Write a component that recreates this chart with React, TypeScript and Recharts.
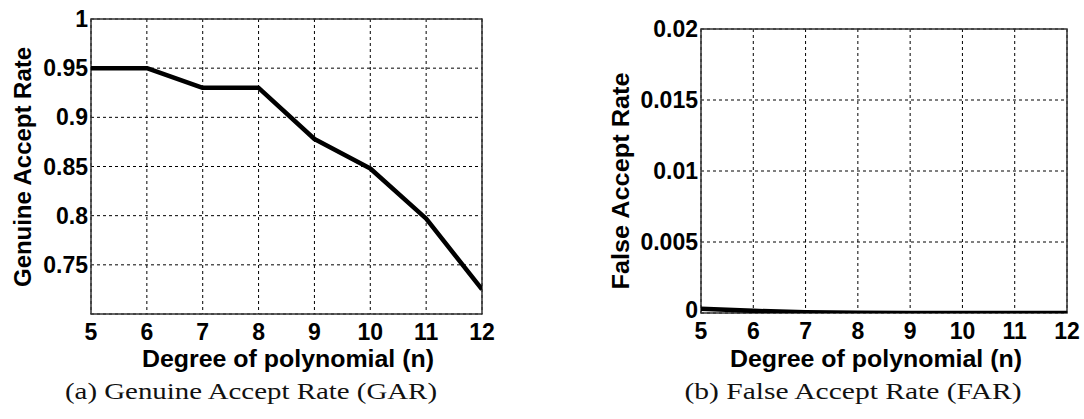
import React from 'react';
import { LineChart, Line, XAxis, YAxis, CartesianGrid, ReferenceArea } from 'recharts';

const degrees = [5, 6, 7, 8, 9, 10, 11, 12];
const garValues = [0.95, 0.95, 0.93, 0.93, 0.878, 0.848, 0.797, 0.725];
const farValues = [0.0003, 0.00015, 0.00005, 0.00001, 0, 0, 0, 0];
const xTicks = [5, 6, 7, 8, 9, 10, 11, 12];
const garTicks = [0.75, 0.8, 0.85, 0.9, 0.95, 1];
const farTicks = [0, 0.005, 0.01, 0.015, 0.02];

const garData = degrees.map((n, i) => ({ n, v: garValues[i] }));
const farData = degrees.map((n, i) => ({ n, v: farValues[i] }));

const SANS = '"Liberation Sans", Arial, sans-serif';
const SERIF = '"Liberation Serif", "Times New Roman", serif';
const tickStyle = { fontSize: 23, fontWeight: 700, fill: '#000', fontFamily: SANS };

function YTick(props: any) {
  const { x, y, payload } = props;
  const isZero = payload.value === 0;
  return (
    <text x={x} y={isZero ? y - 3 : y} textAnchor="end" dominantBaseline="central" {...tickStyle}>
      {String(payload.value)}
    </text>
  );
}

function Panel(props: {
  data: { n: number; v: number }[];
  yDomain: [number, number];
  yTicks: number[];
  width: number;
  yAxisWidth: number;
  margin: { top: number; right: number; left: number; bottom: number };
}) {
  const { data, yDomain, yTicks, width, yAxisWidth, margin } = props;
  return (
    <LineChart width={width} height={380} data={data} margin={margin}>
      <CartesianGrid stroke="#000" strokeDasharray="3 3" strokeWidth={1} />
      <XAxis
        dataKey="n"
        type="number"
        domain={[5, 12]}
        ticks={xTicks}
        interval={0}
        allowDataOverflow
        height={60}
        tickLine={false}
        tickSize={0}
        tickMargin={10}
        axisLine={false}
        tick={tickStyle}
      />
      <YAxis
        type="number"
        domain={yDomain}
        ticks={yTicks}
        interval={0}
        allowDataOverflow
        width={yAxisWidth}
        tickLine={false}
        tickSize={0}
        tickMargin={3}
        axisLine={false}
        tick={<YTick />}
      />
      <ReferenceArea
        x1={5}
        x2={12}
        y1={yDomain[0]}
        y2={yDomain[1]}
        fill="none"
        stroke="#333"
        strokeWidth={1.5}
        fillOpacity={0}
        ifOverflow="visible"
      />
      <Line
        type="linear"
        dataKey="v"
        stroke="#000"
        strokeWidth={4.5}
        dot={false}
        isAnimationActive={false}
        strokeLinejoin="round"
      />
    </LineChart>
  );
}

export default function App() {
  return (
    <div style={{ position: 'absolute', left: 0, top: 0, width: 1084, height: 419, background: '#fff', overflow: 'hidden' }}>
      <div style={{ position: 'absolute', left: 0, top: 0 }}>
        <Panel
          data={garData}
          yDomain={[0.7, 1]}
          yTicks={garTicks}
          width={520}
          yAxisWidth={91}
          margin={{ top: 19, right: 38, left: 0, bottom: 6 }}
        />
      </div>
      <div style={{ position: 'absolute', left: 540, top: 0 }}>
        <Panel
          data={farData}
          yDomain={[0, 0.02]}
          yTicks={farTicks}
          width={544}
          yAxisWidth={90}
          margin={{ top: 29, right: 17, left: 71, bottom: 7 }}
        />
      </div>
      <svg width={1084} height={419} style={{ position: 'absolute', left: 0, top: 0, pointerEvents: 'none' }}>
        <g fontFamily={SANS} fontWeight={700} fontSize={24} fill="#000">
          <text x={22} y={167} transform="rotate(-90 22 167)" textAnchor="middle" dominantBaseline="central" textLength={240} lengthAdjust="spacingAndGlyphs">
            Genuine Accept Rate
          </text>
          <text x={620} y={181} transform="rotate(-90 620 181)" textAnchor="middle" dominantBaseline="central" textLength={217} lengthAdjust="spacingAndGlyphs">
            False Accept Rate
          </text>
          <text x={288} y={358} textAnchor="middle" dominantBaseline="central" textLength={292} lengthAdjust="spacingAndGlyphs">
            Degree of polynomial (n)
          </text>
          <text x={876} y={358} textAnchor="middle" dominantBaseline="central" textLength={292} lengthAdjust="spacingAndGlyphs">
            Degree of polynomial (n)
          </text>
        </g>
        <g fontFamily={SERIF} fontSize={24} fill="#111">
          <text x={251} y={391} textAnchor="middle" dominantBaseline="central" textLength={372} lengthAdjust="spacingAndGlyphs">
            (a) Genuine Accept Rate (GAR)
          </text>
          <text x={853} y={391} textAnchor="middle" dominantBaseline="central" textLength={337} lengthAdjust="spacingAndGlyphs">
            (b) False Accept Rate (FAR)
          </text>
        </g>
      </svg>
    </div>
  );
}
